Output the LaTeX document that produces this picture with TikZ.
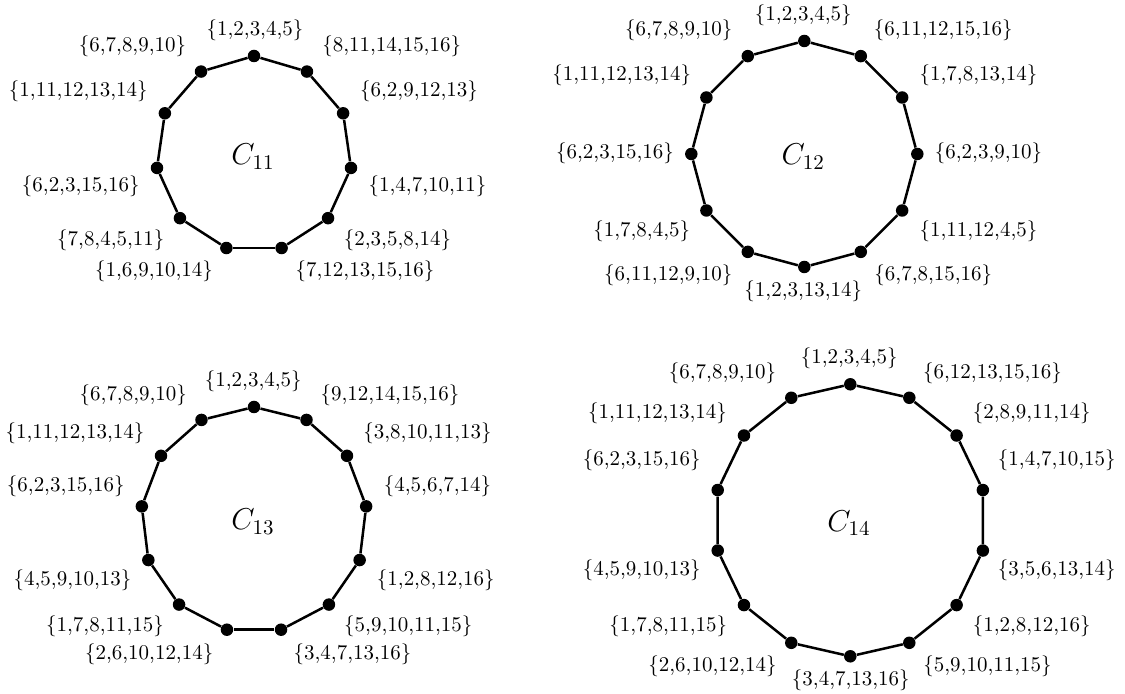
\documentclass[tikz,border=0pt]{standalone}
\usetikzlibrary{calc}
\begin{document}
\begin{tikzpicture}[x=0.477pt,y=-0.477pt,
  dot/.style={circle,fill=black,inner sep=0pt,minimum size=12.5*0.477pt},
  edge/.style={line width=1.2pt},
  lab/.style={inner sep=0pt,font=\normalsize},
  cyc/.style={font=\Large}]
\useasboundingbox (0,0) rectangle (1125,694);
% ---------- C11 ----------
\foreach \i in {0,...,10}
  \node[dot] (a\i) at ({254+98*cos(90+\i*360/11)},{154-98*sin(90+\i*360/11)}) {};
\foreach \i [evaluate=\i as \j using {int(mod(\i+1,11))}] in {0,...,10}
  \draw[edge] (a\i) -- (a\j);
\node[cyc] (c11) at (253,156.7) {$C_{11}$};
\node[lab] (a0l) at (255,30) {\{1,2,3,4,5\}};
\node[lab] (a1l) at (132.5,46.7) {\{6,7,8,9,10\}};
\node[lab] (a10l) at (391.7,46.7) {\{8,11,14,15,16\}};
\node[lab] (a2l) at (78.3,91.7) {\{1,11,12,13,14\}};
\node[lab] (a9l) at (419,91.7) {\{6,2,9,12,13\}};
\node[lab] (a3l) at (80.8,186.7) {\{6,2,3,15,16\}};
\node[lab] (a8l) at (427.5,186.7) {\{1,4,7,10,11\}};
\node[lab] (a4l) at (110.8,240) {\{7,8,4,5,11\}};
\node[lab] (a7l) at (397.5,240) {\{2,3,5,8,14\}};
\node[lab] (a5l) at (154,271.7) {\{1,6,9,10,14\}};
\node[lab] (a6l) at (365,271.7) {\{7,12,13,15,16\}};
% ---------- C12 ----------
\foreach \i in {0,...,11}
  \node[dot] (b\i) at ({804.3+113*cos(90+\i*30)},{154-113*sin(90+\i*30)}) {};
\foreach \i [evaluate=\i as \j using {int(mod(\i+1,12))}] in {0,...,11}
  \draw[edge] (b\i) -- (b\j);
\node[cyc] (c12) at (803.3,156.7) {$C_{12}$};
\node[lab] (b0l) at (803.3,15) {\{1,2,3,4,5\}};
\node[lab] (b1l) at (678.7,30.7) {\{6,7,8,9,10\}};
\node[lab] (b11l) at (943.3,30.7) {\{6,11,12,15,16\}};
\node[lab] (b2l) at (621.7,75) {\{1,11,12,13,14\}};
\node[lab] (b10l) at (978.5,75) {\{1,7,8,13,14\}};
\node[lab] (b3l) at (615,153.7) {\{6,2,3,15,16\}};
\node[lab] (b9l) at (988.5,153.7) {\{6,2,3,9,10\}};
\node[lab] (b4l) at (641.7,231.7) {\{1,7,8,4,5\}};
\node[lab] (b8l) at (978.5,231.7) {\{1,11,12,4,5\}};
\node[lab] (b5l) at (668.3,275) {\{6,11,12,9,10\}};
\node[lab] (b7l) at (933.3,275) {\{6,7,8,15,16\}};
\node[lab] (b6l) at (803.3,291) {\{1,2,3,13,14\}};
% ---------- C13 ----------
\foreach \i in {0,...,12}
  \node[dot] (d\i) at ({254+113*cos(90+\i*360/13)},{520-113*sin(90+\i*360/13)}) {};
\foreach \i [evaluate=\i as \j using {int(mod(\i+1,13))}] in {0,...,12}
  \draw[edge] (d\i) -- (d\j);
\node[cyc] (c13) at (253,521.7) {$C_{13}$};
\node[lab] (d0l) at (253.3,381.7) {\{1,2,3,4,5\}};
\node[lab] (d1l) at (133.3,395) {\{6,7,8,9,10\}};
\node[lab] (d12l) at (390,395) {\{9,12,14,15,16\}};
\node[lab] (d2l) at (75,433.3) {\{1,11,12,13,14\}};
\node[lab] (d11l) at (427.5,433.3) {\{3,8,10,11,13\}};
\node[lab] (d3l) at (65.8,486.7) {\{6,2,3,15,16\}};
\node[lab] (d10l) at (437.5,486.7) {\{4,5,6,7,14\}};
\node[lab] (d4l) at (72.5,580) {\{4,5,9,10,13\}};
\node[lab] (d9l) at (435.8,580) {\{1,2,8,12,16\}};
\node[lab] (d5l) at (105,626.7) {\{1,7,8,11,15\}};
\node[lab] (d8l) at (408.3,626.7) {\{5,9,10,11,15\}};
\node[lab] (d6l) at (149.2,654) {\{2,6,10,12,14\}};
\node[lab] (d7l) at (352.5,654) {\{3,4,7,13,16\}};
% ---------- C14 ----------
\foreach \i in {0,...,13}
  \node[dot] (e\i) at ({850.3+136*cos(90+\i*360/14)},{520.3-136*sin(90+\i*360/14)}) {};
\foreach \i [evaluate=\i as \j using {int(mod(\i+1,14))}] in {0,...,13}
  \draw[edge] (e\i) -- (e\j);
\node[cyc] (c14) at (849,523) {$C_{14}$};
\node[lab] (e0l) at (849.2,358.3) {\{1,2,3,4,5\}};
\node[lab] (e1l) at (722.5,373.3) {\{6,7,8,9,10\}};
\node[lab] (e13l) at (992.5,373.3) {\{6,12,13,15,16\}};
\node[lab] (e2l) at (657.5,413.3) {\{1,11,12,13,14\}};
\node[lab] (e12l) at (1031.7,413.3) {\{2,8,9,11,14\}};
\node[lab] (e3l) at (641.7,460) {\{6,2,3,15,16\}};
\node[lab] (e11l) at (1056.8,460) {\{1,4,7,10,15\}};
\node[lab] (e4l) at (641.7,570) {\{4,5,9,10,13\}};
\node[lab] (e10l) at (1056.8,570) {\{3,5,6,13,14\}};
\node[lab] (e5l) at (668.3,626.7) {\{1,7,8,11,15\}};
\node[lab] (e9l) at (1031.7,626.7) {\{1,2,8,12,16\}};
\node[lab] (e6l) at (712.5,666.7) {\{2,6,10,12,14\}};
\node[lab] (e8l) at (987.5,666.7) {\{5,9,10,11,15\}};
\node[lab] (e7l) at (850.8,680) {\{3,4,7,13,16\}};
\end{tikzpicture}
\end{document}
